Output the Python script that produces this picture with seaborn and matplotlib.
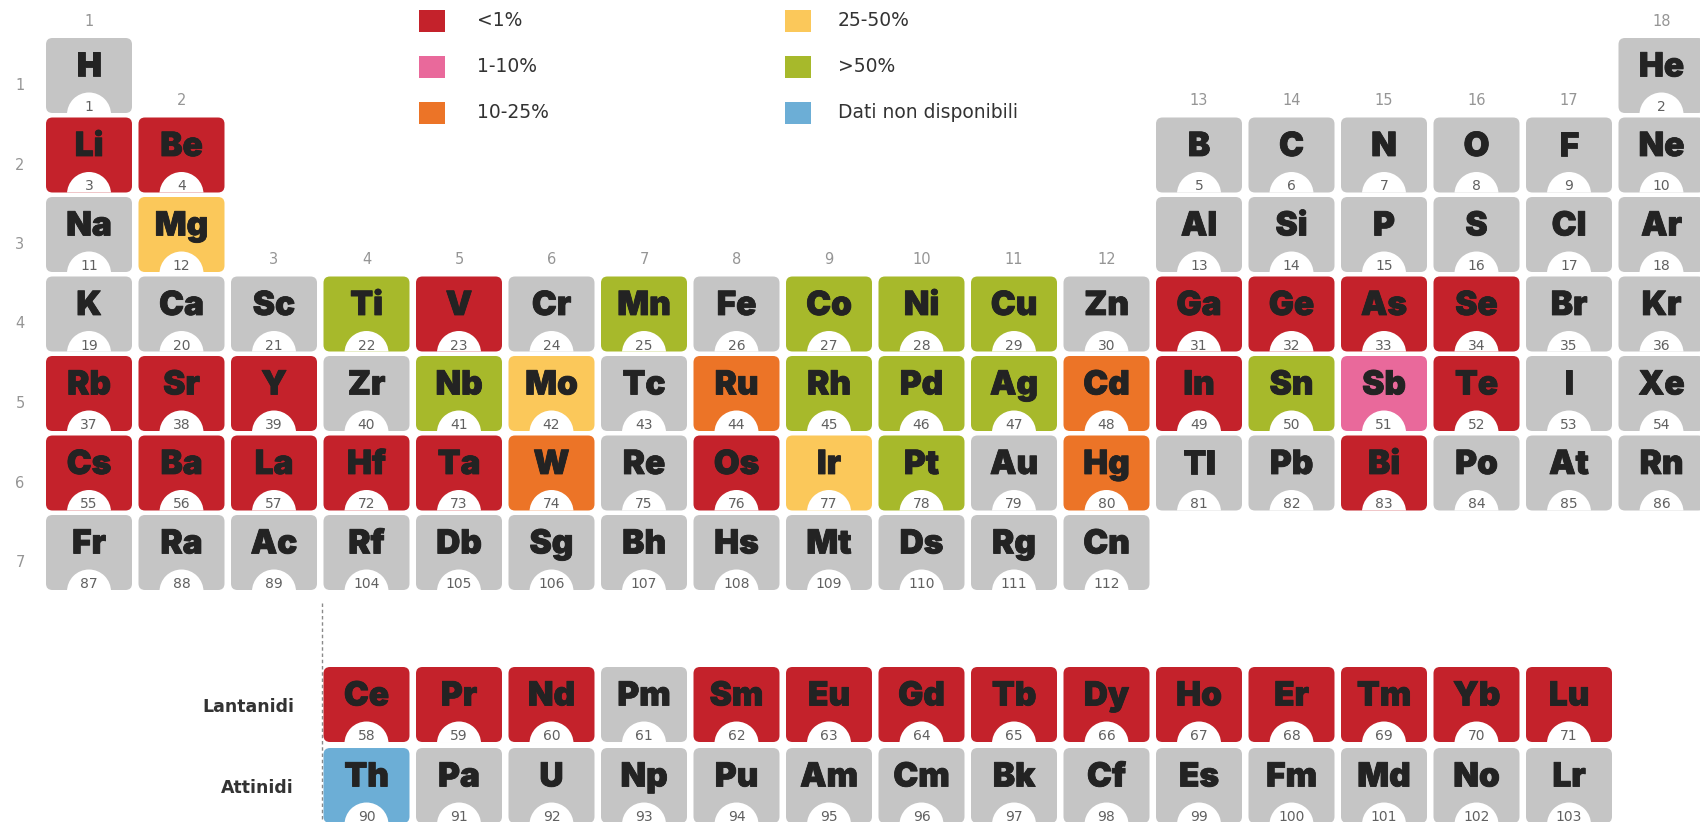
import matplotlib
matplotlib.use("Agg")
import matplotlib.pyplot as plt
import matplotlib.patheffects as pe
from matplotlib import font_manager
from matplotlib.patches import FancyBboxPatch, Ellipse, Rectangle
import seaborn as sns

# ------------------------------------------------------------
# data: periodic table, share of supply from recycling
# ------------------------------------------------------------
symbols = ["H", "He",
           "Li", "Be", "B", "C", "N", "O", "F", "Ne",
           "Na", "Mg", "Al", "Si", "P", "S", "Cl", "Ar",
           "K", "Ca", "Sc", "Ti", "V", "Cr", "Mn", "Fe", "Co", "Ni", "Cu", "Zn",
           "Ga", "Ge", "As", "Se", "Br", "Kr",
           "Rb", "Sr", "Y", "Zr", "Nb", "Mo", "Tc", "Ru", "Rh", "Pd", "Ag", "Cd",
           "In", "Sn", "Sb", "Te", "I", "Xe",
           "Cs", "Ba", "La", "Hf", "Ta", "W", "Re", "Os", "Ir", "Pt", "Au", "Hg",
           "Tl", "Pb", "Bi", "Po", "At", "Rn",
           "Fr", "Ra", "Ac", "Rf", "Db", "Sg", "Bh", "Hs", "Mt", "Ds", "Rg", "Cn"]
numbers = [1, 2,
           3, 4, 5, 6, 7, 8, 9, 10,
           11, 12, 13, 14, 15, 16, 17, 18,
           19, 20, 21, 22, 23, 24, 25, 26, 27, 28, 29, 30, 31, 32, 33, 34, 35, 36,
           37, 38, 39, 40, 41, 42, 43, 44, 45, 46, 47, 48, 49, 50, 51, 52, 53, 54,
           55, 56, 57, 72, 73, 74, 75, 76, 77, 78, 79, 80, 81, 82, 83, 84, 85, 86,
           87, 88, 89, 104, 105, 106, 107, 108, 109, 110, 111, 112]
groups = [1, 18,
          1, 2, 13, 14, 15, 16, 17, 18,
          1, 2, 13, 14, 15, 16, 17, 18,
          1, 2, 3, 4, 5, 6, 7, 8, 9, 10, 11, 12, 13, 14, 15, 16, 17, 18,
          1, 2, 3, 4, 5, 6, 7, 8, 9, 10, 11, 12, 13, 14, 15, 16, 17, 18,
          1, 2, 3, 4, 5, 6, 7, 8, 9, 10, 11, 12, 13, 14, 15, 16, 17, 18,
          1, 2, 3, 4, 5, 6, 7, 8, 9, 10, 11, 12]
periods = [1] * 2 + [2] * 8 + [3] * 8 + [4] * 18 + [5] * 18 + [6] * 18 + [7] * 12
# level codes: 0 <1%, 1 1-10%, 2 10-25%, 3 25-50%, 4 >50%, 5 no data, -1 not assessed
levels = [-1, -1,
          0, 0, -1, -1, -1, -1, -1, -1,
          -1, 3, -1, -1, -1, -1, -1, -1,
          -1, -1, -1, 4, 0, -1, 4, -1, 4, 4, 4, -1, 0, 0, 0, 0, -1, -1,
          0, 0, 0, -1, 4, 3, -1, 2, 4, 4, 4, 2, 0, 4, 1, 0, -1, -1,
          0, 0, 0, 0, 0, 2, -1, 0, 3, 4, -1, 2, -1, -1, 0, -1, -1, -1,
          -1, -1, -1, -1, -1, -1, -1, -1, -1, -1, -1, -1]

lanthanides = ["Ce", "Pr", "Nd", "Pm", "Sm", "Eu", "Gd", "Tb", "Dy", "Ho", "Er", "Tm", "Yb", "Lu"]
lanthanide_numbers = list(range(58, 72))
lanthanide_levels = [0, 0, 0, -1, 0, 0, 0, 0, 0, 0, 0, 0, 0, 0]
actinides = ["Th", "Pa", "U", "Np", "Pu", "Am", "Cm", "Bk", "Cf", "Es", "Fm", "Md", "No", "Lr"]
actinide_numbers = list(range(90, 104))
actinide_levels = [5, -1, -1, -1, -1, -1, -1, -1, -1, -1, -1, -1, -1, -1]

legend_labels = ["<1%", "1-10%", "10-25%", "25-50%", ">50%", "Dati non disponibili"]
series_labels = ["Lantanidi", "Attinidi"]

# ------------------------------------------------------------
# style
# ------------------------------------------------------------
sns.set_theme(style="white")
plt.rcParams["font.family"] = ["DejaVu Sans"]

palette = sns.color_palette(["#c4222b", "#e9699b", "#ec7427", "#fbc85a", "#a7b92b", "#6caed6"])
GREY = "#c5c5c5"
INK = "#232323"

# heavy face for the element symbols, if one is installed
heavy = [f for f in font_manager.fontManager.ttflist
         if f.name in ("Lato", "Open Sans", "Roboto", "Inter") and f.weight >= 800
         and f.style == "normal"]
if heavy:
    sym_font = dict(family=heavy[0].name, weight=heavy[0].weight, fontsize=24)
    stroke = [pe.withStroke(linewidth=0.6, foreground=INK)]
else:
    sym_font = dict(family="DejaVu Sans", weight="bold", fontsize=23)
    stroke = [pe.withStroke(linewidth=1.2, foreground=INK)]

PX, PY = 92.5, 79.5          # pixels per column / per row
TW, TH = 86 / PX, 75 / PY    # tile size in data units
ROW_LAN, ROW_ACT = 8.912, 9.931


def to_x(px):
    return 1 + (px - 89) / PX


def to_y(py):
    return 1 + (py - 75.5) / PY


fig = plt.figure(figsize=(17, 8.22), dpi=100)
ax = fig.add_axes([0, 0, 1, 1])
ax.set_xlim(to_x(0), to_x(1700))
ax.set_ylim(to_y(822), to_y(0))
ax.axis("off")


def draw_tile(col, row, sym, num, level):
    color = GREY if level < 0 else palette[level]
    tile = FancyBboxPatch((col - TW / 2, row - TH / 2), TW, TH,
                          boxstyle="round,pad=0,rounding_size=0.07",
                          mutation_aspect=PX / PY,
                          facecolor=color, edgecolor="none", zorder=2)
    ax.add_patch(tile)
    badge = Ellipse((col, row + TH / 2 + 1.5 / PY), 44 / PX, 44 / PY,
                    facecolor="white", edgecolor="none", zorder=3)
    ax.add_patch(badge)
    badge.set_clip_path(tile)
    ax.text(col, row - 8 / PY, sym, ha="center", va="center", color=INK,
            path_effects=stroke, zorder=4, **sym_font)
    ax.text(col, row + TH / 2 - 6 / PY, str(num), ha="center", va="center",
            fontsize=10, color="#606060", zorder=4)


for sym, num, g, p, lv in zip(symbols, numbers, groups, periods, levels):
    draw_tile(g, p, sym, num, lv)

for i, (sym, num, lv) in enumerate(zip(lanthanides, lanthanide_numbers, lanthanide_levels)):
    draw_tile(4 + i, ROW_LAN, sym, num, lv)
for i, (sym, num, lv) in enumerate(zip(actinides, actinide_numbers, actinide_levels)):
    draw_tile(4 + i, ROW_ACT, sym, num, lv)

# group numbers above the first tile of each column
for g in range(1, 19):
    top = min(p for gg, p in zip(groups, periods) if gg == g)
    ax.text(g, top - TH / 2 - 17 / PY, str(g), ha="center", va="center",
            fontsize=10.5, color="#959595")

# period numbers
for p in range(1, 8):
    ax.text(to_x(20), p + 10 / PY, str(p), ha="center", va="center",
            fontsize=10.5, color="#959595")

# lanthanide / actinide labels and dashed separator
for lab, row in zip(series_labels, [ROW_LAN, ROW_ACT]):
    ax.text(to_x(294), row + 2 / PY, lab, ha="right", va="center",
            fontsize=12.5, fontweight="bold", color="#333333")
ax.plot([to_x(322), to_x(322)], [to_y(603), to_y(822)], color="#8a8a8a",
        lw=1, ls=(0, (2.5, 2)), zorder=1)

# legend
for i, lab in enumerate(legend_labels):
    cx = 432 if i < 3 else 798
    tx = 477 if i < 3 else 838
    cy = [21, 67, 113][i % 3]
    ax.add_patch(Rectangle((to_x(cx - 13), to_y(cy - 11)), 26 / PX, 22 / PY,
                           facecolor=palette[i], edgecolor="none"))
    ax.text(to_x(tx), to_y(cy), lab, ha="left", va="center",
            fontsize=13.5, color="#333333")

fig.savefig("out.png", dpi=100)
